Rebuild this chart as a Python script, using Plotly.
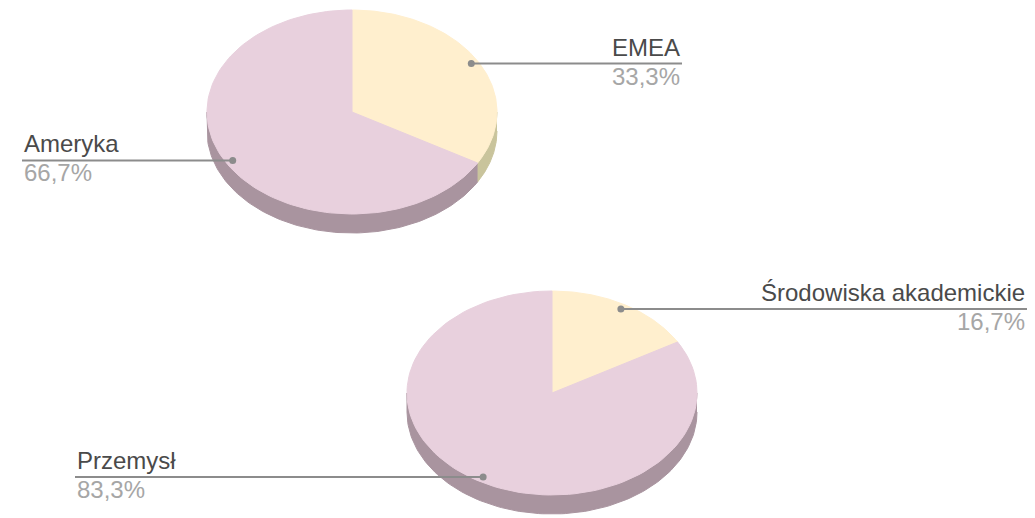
import numpy as np
import plotly.graph_objects as go

# ---------------- data ----------------
pie1_labels = ["EMEA", "Ameryka"]
pie1_values = [1, 2]
pie2_labels = ["Środowiska akademickie", "Przemysł"]
pie2_values = [1, 5]

# ---------------- styles / layout ----------------
W, H = 1035, 518
face_colors = ["#FFEFCE", "#E8D0DD"]
side_colors = ["#C9C49C", "#A9949F"]
label_color = "#4A4A4A"
pct_color = "#A6A6A6"
line_color = "#8C8C8C"
FONT = "Liberation Sans, Arial, sans-serif"
FS = 24

pies = [
    dict(labels=pie1_labels, values=pie1_values, cx=352, cy=112, a=145, b=102, depth=19,
         label_x={"EMEA": 682, "Ameryka": 22}),
    dict(labels=pie2_labels, values=pie2_values, cx=552, cy=393, a=145, b=102, depth=19,
         label_x={"Środowiska akademickie": 1027, "Przemysł": 75}),
]


def arc(cx, cy, a, b, t0, t1, n=120):
    t = np.radians(np.linspace(t0, t1, n))
    return cx + a * np.sin(t), cy - b * np.cos(t)


fig = go.Figure()
annotations = []

for p in pies:
    vals = np.array(p["values"], dtype=float)
    total = vals.sum()
    bounds = np.concatenate([[0], np.cumsum(vals) / total * 360])
    cx, cy, a, b, d = p["cx"], p["cy"], p["a"], p["b"], p["depth"]

    # sides (extrusion), visible for angles 90..270 (lower half)
    for i in range(len(vals)):
        s0, s1 = max(bounds[i], 90), min(bounds[i + 1], 270)
        if s1 > s0:
            xt, yt = arc(cx, cy, a, b, s0, s1)
            xs = np.concatenate([xt, xt[::-1]])
            ys = np.concatenate([yt, yt[::-1] + d])
            fig.add_trace(go.Scatter(x=xs, y=ys, fill="toself", mode="lines",
                                     fillcolor=side_colors[i],
                                     line=dict(color=side_colors[i], width=1),
                                     hoverinfo="skip", showlegend=False))

    # top faces
    for i in range(len(vals)):
        xt, yt = arc(cx, cy, a, b, bounds[i], bounds[i + 1])
        xs = np.concatenate([[cx], xt, [cx]])
        ys = np.concatenate([[cy], yt, [cy]])
        fig.add_trace(go.Scatter(x=xs, y=ys, fill="toself", mode="lines",
                                 fillcolor=face_colors[i],
                                 line=dict(color=face_colors[i], width=1),
                                 hoverinfo="skip", showlegend=False))

    # labels with leader lines
    for i, lab in enumerate(p["labels"]):
        mid = (bounds[i] + bounds[i + 1]) / 2
        f = 0.95
        t = np.radians(mid)
        dx, dy = cx + f * a * np.sin(t), cy - f * b * np.cos(t)
        lx = p["label_x"][lab]
        right = lx > dx
        fig.add_trace(go.Scatter(x=[dx, lx], y=[dy, dy], mode="lines",
                                 line=dict(color=line_color, width=2),
                                 hoverinfo="skip", showlegend=False))
        fig.add_trace(go.Scatter(x=[dx], y=[dy], mode="markers",
                                 marker=dict(color=line_color, size=7),
                                 hoverinfo="skip", showlegend=False))
        pct = f"{vals[i] / total * 100:.1f}".replace(".", ",") + "%"
        anchor = "right" if right else "left"
        annotations.append(dict(x=lx, y=dy - 1, text=lab, showarrow=False,
                                xanchor=anchor, yanchor="bottom", xref="x", yref="y",
                                font=dict(family=FONT, size=FS, color=label_color)))
        annotations.append(dict(x=lx, y=dy - 3, text=pct, showarrow=False,
                                xanchor=anchor, yanchor="top", xref="x", yref="y",
                                font=dict(family=FONT, size=FS, color=pct_color)))

fig.update_layout(
    width=W, height=H,
    margin=dict(l=0, r=0, t=0, b=0),
    paper_bgcolor="white", plot_bgcolor="white",
    xaxis=dict(range=[0, W], visible=False, fixedrange=True),
    yaxis=dict(range=[H, 0], visible=False, fixedrange=True),
    annotations=annotations,
    showlegend=False,
)

fig.write_html("out.html")
